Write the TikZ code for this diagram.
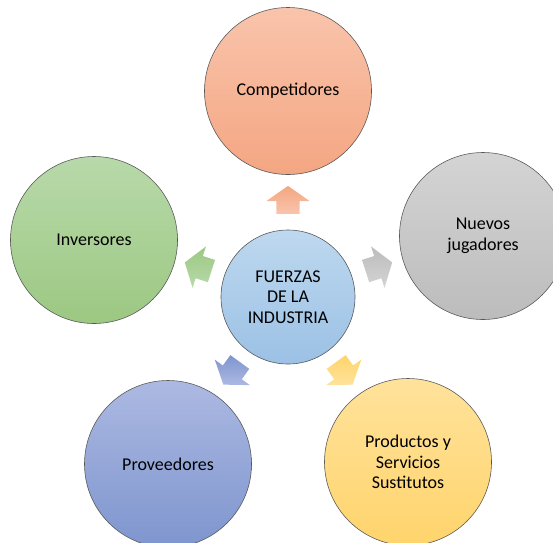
\documentclass[tikz,border=0pt]{standalone}
\usepackage{fontspec}
\setmainfont{Carlito}
\usetikzlibrary{shapes.arrows}
\definecolor{orT}{RGB}{249,196,172}\definecolor{orB}{RGB}{244,166,130}
\definecolor{grT}{RGB}{184,217,170}\definecolor{grB}{RGB}{156,200,130}
\definecolor{gyT}{RGB}{212,212,212}\definecolor{gyB}{RGB}{188,188,188}
\definecolor{blT}{RGB}{172,185,226}\definecolor{blB}{RGB}{126,149,206}
\definecolor{yeT}{RGB}{255,226,155}\definecolor{yeB}{RGB}{255,212,108}
\definecolor{ceT}{RGB}{190,216,239}\definecolor{ceB}{RGB}{155,193,229}
\tikzset{
  force/.style={circle,draw=black!65,line width=0.6pt,minimum size=167pt,inner sep=0pt,
    align=center,font=\fontsize{18}{20.5}\selectfont},
  centre/.style={force,minimum size=134pt},
  flow/.style={single arrow,minimum height=28pt,minimum width=43pt,inner sep=0pt,
    inner ysep=11.5pt,single arrow head extend=10pt,single arrow tip angle=110,draw=none}
}
\begin{document}
\begin{tikzpicture}[x=1pt,y=-1pt]
\useasboundingbox (0,0) rectangle (553,542);
\node[centre,top color=ceT,bottom color=ceB] (c) at (288,297) {FUERZAS\\DE LA\\INDUSTRIA};
\node[force,top color=orT,bottom color=orB] (comp) at (288,91) {Competidores};
\node[force,top color=grT,bottom color=grB] (inv) at (94,240) {Inversores};
\node[force,top color=gyT,bottom color=gyB] (nue) at (483,236) {Nuevos\\jugadores};
\node[force,top color=blT,bottom color=blB] (prov) at (168,464) {Proveedores};
\node[force,top color=yeT,bottom color=yeB] (prod) at (408,462) {Productos y\\Servicios\\Sustitutos};
\node[flow,rotate=90,top color=orB,bottom color=orT] (a1) at (288,204) {};
\node[flow,rotate=162,top color=grB,bottom color=grT] (a2) at (202,268) {};
\node[flow,rotate=18,top color=gyB,bottom color=gyT] (a3) at (375,268) {};
\node[flow,rotate=234,top color=blB,bottom color=blT] (a4) at (234,370) {};
\node[flow,rotate=306,top color=yeB,bottom color=yeT] (a5) at (342,370) {};
\end{tikzpicture}
\end{document}
